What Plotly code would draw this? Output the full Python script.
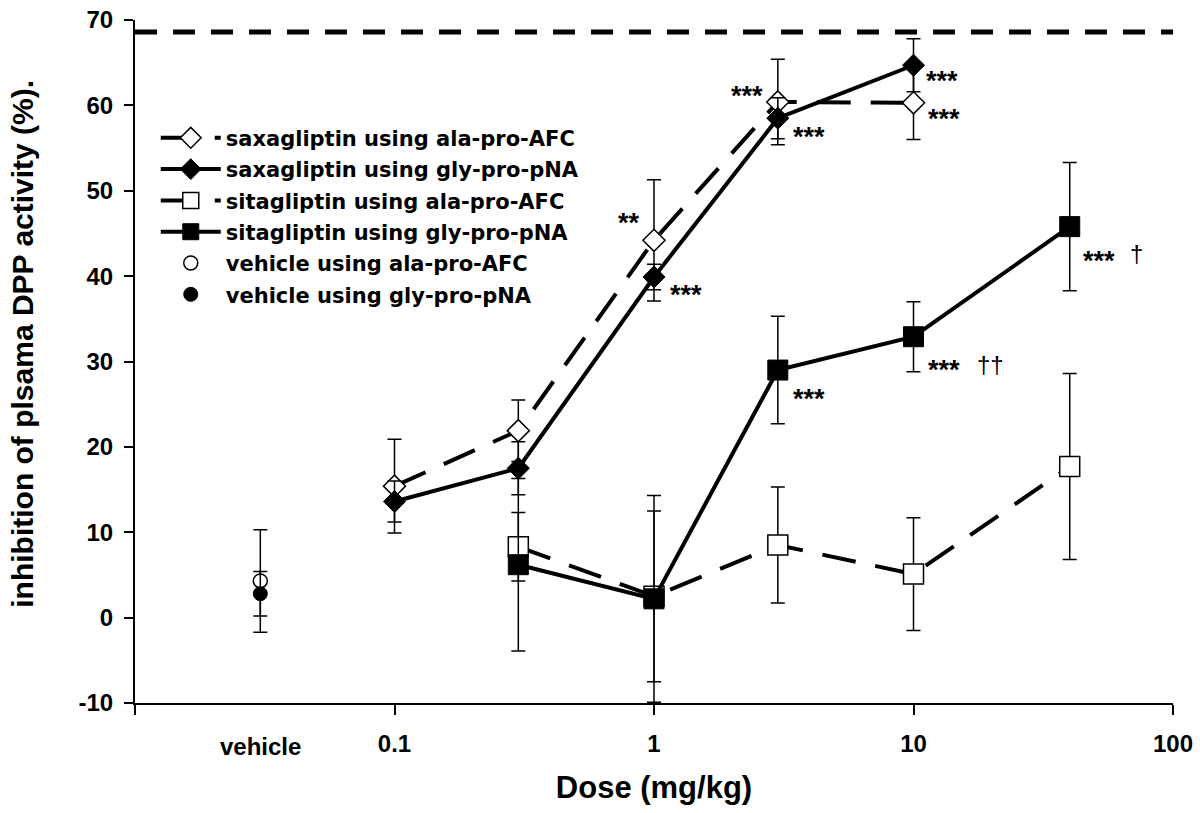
import plotly.graph_objects as go
import math

# ---------------- data ----------------
saxa_doses = [0.1, 0.3, 1, 3, 10]
sita_doses = [0.3, 1, 3, 10, 40]

saxa_ala = [15.4, 21.9, 44.2, 60.4, 60.3]
saxa_ala_err = [5.5, 3.6, 7.1, 5.0, 4.3]
saxa_gly = [13.6, 17.5, 39.9, 58.5, 64.7]
saxa_gly_err = [2.4, 3.1, 1.5, 2.4, 3.1]

sita_ala = [8.3, 2.5, 8.5, 5.1, 17.7]
sita_ala_err = [4.0, 10.0, 6.8, 6.6, 10.9]
sita_gly = [6.2, 2.2, 29.0, 32.9, 45.8]
sita_gly_err = [10.1, 12.1, 6.3, 4.1, 7.5]

vehicle_dose = [0.0304]
vehicle_ala = [4.3]
vehicle_ala_err = [6.0]
vehicle_gly = [2.8]
vehicle_gly_err = [2.6]

max_inhibition = 68.6

x_tickvals = [0.01, 0.1, 1, 10, 100]
x_ticktext = ["", "0.1", "1", "10", "100"]
y_tickvals = [-10, 0, 10, 20, 30, 40, 50, 60, 70]
y_ticktext = ["-10", "0", "10", "20", "30", "40", "50", "60", "70"]

# significance labels: (dose, value, text)
sig_labels = [
    (0.80, 46.7, "**"),
    (1.33, 38.2, "***"),
    (2.29, 61.6, "***"),
    (3.95, 56.8, "***"),
    (12.9, 63.3, "***"),
    (13.1, 58.9, "***"),
    (3.95, 26.1, "***"),
    (13.1, 29.5, "***"),
    (52.0, 42.2, "***"),
]
dagger_labels = [
    (19.8, 29.6, "††"),
    (72.6, 42.7, "†"),
]

# ---------------- figure ----------------
FONT = "Liberation Sans, Arial, sans-serif"
LEGFONT = "DejaVu Sans, Liberation Sans, Arial, sans-serif"
fig = go.Figure()

def err(v):
    return dict(type="data", array=v, visible=True, color="black", thickness=1.5, width=7)

fig.add_trace(go.Scatter(
    x=sita_doses, y=sita_ala, error_y=err(sita_ala_err), mode="lines+markers",
    name="sitagliptin using ala-pro-AFC", legendgroup="c", legendrank=3,
    line=dict(color="black", width=4, dash="34px,20px"),
    marker=dict(symbol="square", size=20, color="white", line=dict(color="black", width=1.5)),
))
fig.add_trace(go.Scatter(
    x=sita_doses, y=sita_gly, error_y=err(sita_gly_err), mode="lines+markers",
    name="sitagliptin using gly-pro-pNA", legendgroup="d", legendrank=4,
    line=dict(color="black", width=4),
    marker=dict(symbol="square", size=20, color="black", line=dict(color="black", width=1)),
))
fig.add_trace(go.Scatter(
    x=saxa_doses, y=saxa_ala, error_y=err(saxa_ala_err), mode="lines+markers",
    name="saxagliptin using ala-pro-AFC", legendgroup="a", legendrank=1,
    line=dict(color="black", width=4, dash="34px,20px"),
    marker=dict(symbol="diamond", size=17, color="white", line=dict(color="black", width=1.5)),
))
fig.add_trace(go.Scatter(
    x=saxa_doses, y=saxa_gly, error_y=err(saxa_gly_err), mode="lines+markers",
    name="saxagliptin using gly-pro-pNA", legendgroup="b", legendrank=2,
    line=dict(color="black", width=4),
    marker=dict(symbol="diamond", size=17, color="black", line=dict(color="black", width=1)),
))
fig.add_trace(go.Scatter(
    x=vehicle_dose, y=vehicle_ala, error_y=err(vehicle_ala_err), mode="markers",
    name="vehicle using ala-pro-AFC", legendgroup="e", legendrank=5,
    marker=dict(symbol="circle", size=14, color="white", line=dict(color="black", width=1.5)),
))
fig.add_trace(go.Scatter(
    x=vehicle_dose, y=vehicle_gly, error_y=err(vehicle_gly_err), mode="markers",
    name="vehicle using gly-pro-pNA", legendgroup="f", legendrank=6,
    marker=dict(symbol="circle", size=14, color="black", line=dict(color="black", width=1)),
))

# dashed maximal inhibition line
fig.add_shape(type="line", xref="paper", yref="y", x0=0, x1=1,
              y0=max_inhibition, y1=max_inhibition,
              line=dict(color="black", width=5, dash="22px,16px"))

for d, v, t in sig_labels:
    fig.add_annotation(x=math.log10(d), y=v, text=t, showarrow=False,
                       font=dict(family=FONT, size=27, color="black", weight="bold"),
                       xanchor="center", yanchor="middle", yshift=-4)
for d, v, t in dagger_labels:
    fig.add_annotation(x=math.log10(d), y=v, text=t, showarrow=False,
                       font=dict(family=FONT, size=24, color="black"),
                       xanchor="center", yanchor="middle")

# vehicle category label
fig.add_annotation(x=math.log10(vehicle_dose[0]), xref="x", y=0, yref="paper",
                   yshift=-43, text="vehicle", showarrow=False,
                   font=dict(family=FONT, size=24, color="black", weight="bold"),
                   xanchor="center", yanchor="middle")

# y-axis title as rotated annotation
fig.add_annotation(x=0, xref="paper", xshift=-112, y=0.526, yref="paper",
                   text="inhibition of plsama DPP activity (%).", textangle=-90,
                   showarrow=False, xanchor="center", yanchor="middle",
                   font=dict(family=FONT, size=30, color="black", weight="bold"))

fig.update_layout(
    width=1200, height=813,
    margin=dict(l=135, r=27, t=20, b=110, autoexpand=False),
    paper_bgcolor="white", plot_bgcolor="white",
    font=dict(family=FONT, color="black"),
    showlegend=True,
    legend=dict(x=0.02, y=0.857, xanchor="left", yanchor="top",
                bgcolor="rgba(0,0,0,0)", tracegroupgap=1,
                font=dict(family=LEGFONT, size=21, color="black", weight="bold"),
                itemwidth=60),
    xaxis=dict(type="log", range=[-2, 2], tickvals=x_tickvals, ticktext=x_ticktext,
               automargin=False, ticklabeloverflow="allow",
               showgrid=False, zeroline=False, showline=True, linecolor="black", linewidth=2,
               ticks="outside", ticklen=10, tickwidth=1.5, tickcolor="black",
               ticklabelstandoff=8,
               tickfont=dict(family=FONT, size=24, color="black", weight="bold"),
               title=dict(text="Dose (mg/kg)", standoff=21,
                          font=dict(family=FONT, size=31, color="black", weight="bold"))),
    yaxis=dict(range=[-10, 70], tickvals=y_tickvals, ticktext=y_ticktext,
               automargin=False, ticklabeloverflow="allow",
               showgrid=False, zeroline=False, showline=True, linecolor="black", linewidth=2,
               ticks="outside", ticklen=9, tickwidth=1.5, tickcolor="black",
               ticklabelstandoff=6,
               tickfont=dict(family=FONT, size=24, color="black", weight="bold")),
)

fig.write_html("out.html", config={"displayModeBar": False},
               post_script="document.body.style.margin='0';document.body.style.overflow='hidden';")
